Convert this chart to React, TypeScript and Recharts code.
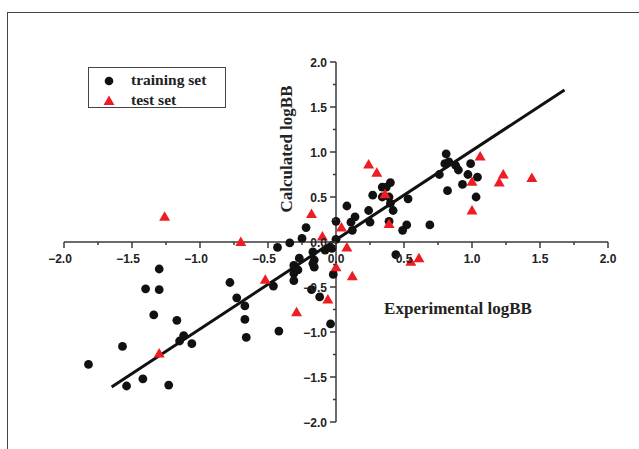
import React from "react"
import { ScatterChart, Scatter, XAxis, YAxis, ReferenceLine, Legend, Customized } from "recharts"

const W = 639
const H = 449
const MARGIN = { top: 62, right: 31, bottom: 7, left: 44 }
const X_AXIS_H = 20
const Y_AXIS_W = 20
const PLOT_LEFT = MARGIN.left + Y_AXIS_W
const PLOT_BOTTOM = MARGIN.bottom + X_AXIS_H
const X0 = PLOT_LEFT + (W - PLOT_LEFT - MARGIN.right) / 2
const Y0 = MARGIN.top + (H - MARGIN.top - PLOT_BOTTOM) / 2

const AXIS_COLOR = "#3a3a3a"
const RED = "#ee1c25"

// training set (experimental, calculated)
const TRAIN_X = [
  -1.82, -1.57, -1.54, -1.42, -1.23, -1.3, -1.4, -1.3, -1.34, -1.17, -1.15, -1.12, -1.06,
  -0.78, -0.73, -0.67, -0.67, -0.66, -0.42, -0.46, -0.43, -0.34, -0.31, -0.31, -0.31, -0.27,
  -0.28, -0.25, -0.22, -0.17, -0.16, -0.16, -0.17, -0.18, -0.12, -0.08, -0.03, -0.02, -0.04,
  0.0, 0.0, 0.08, 0.11, 0.14, 0.12, 0.24, 0.25, 0.27, 0.34, 0.37, 0.4, 0.34, 0.39, 0.4, 0.42,
  0.39, 0.44, 0.49, 0.52, 0.53, 0.69, 0.76, 0.81, 0.8, 0.83, 0.82, 0.88, 0.9, 0.93, 0.97,
  0.99, 1.04, 1.03,
]
const TRAIN_Y = [
  -1.36, -1.16, -1.6, -1.52, -1.59, -0.3, -0.52, -0.53, -0.81, -0.87, -1.1, -1.04, -1.13,
  -0.45, -0.62, -0.71, -0.86, -1.06, -0.99, -0.49, -0.06, -0.01, -0.26, -0.35, -0.43, -0.18,
  -0.31, 0.04, 0.16, -0.11, -0.2, -0.28, -0.24, -0.53, -0.61, -0.09, -0.07, -0.36, -0.91,
  0.23, 0.03, 0.4, 0.22, 0.28, 0.13, 0.35, 0.22, 0.52, 0.61, 0.61, 0.66, 0.5, 0.5, 0.43, 0.35,
  0.23, -0.14, 0.13, 0.19, 0.48, 0.19, 0.75, 0.98, 0.87, 0.89, 0.57, 0.85, 0.8, 0.64, 0.75,
  0.87, 0.72, 0.5,
]

// test set
const TEST_X = [
  -1.26, -0.7, -0.52, -1.3, -0.29, -0.18, -0.1, -0.06, 0.0, 0.04, 0.08, 0.12, 0.24, 0.3,
  0.36, 0.39, 0.55, 0.61, 1.0, 1.0, 1.06, 1.2, 1.23, 1.44,
]
const TEST_Y = [
  0.28, 0.0, -0.42, -1.24, -0.78, 0.31, 0.06, -0.64, -0.28, 0.16, -0.06, -0.38, 0.86, 0.77,
  0.53, 0.2, -0.22, -0.18, 0.67, 0.35, 0.95, 0.66, 0.75, 0.71,
]

// fitted line end points
const FIT_X = [-1.65, 1.68]
const FIT_Y = [-1.61, 1.69]

const X_TICKS = [-2, -1.75, -1.5, -1.25, -1, -0.75, -0.5, -0.25, 0, 0.25, 0.5, 0.75, 1, 1.25, 1.5, 1.75, 2]
const Y_TICKS = [-2, -1.75, -1.5, -1.25, -1, -0.75, -0.5, -0.25, 0, 0.25, 0.5, 0.75, 1, 1.25, 1.5, 1.75, 2]

const trainData = TRAIN_X.map((x, i) => ({ x, y: TRAIN_Y[i] }))
const testData = TEST_X.map((x, i) => ({ x, y: TEST_Y[i] }))

const isMajor = (v: number) => Math.abs(v * 2 - Math.round(v * 2)) < 1e-6
const fmt = (v: number) => v.toFixed(1).replace("-", "\u2212")

const tickFont = {
  fontFamily: "'Liberation Sans', Arial, sans-serif",
  fontWeight: 700,
  fontSize: 12,
  fill: "#222",
}
const titleFont = {
  fontFamily: "'Liberation Serif', 'Times New Roman', serif",
  fontWeight: 700,
  fontSize: 17,
  fill: "#222",
}

// x axis sits on y = 0, so ticks are drawn from the zero line
const renderXTick = (props: any) => {
  const { x, payload } = props
  const v = payload.value
  const major = isMajor(v)
  return (
    <g key={`xt-${v}`}>
      <line x1={x} x2={x} y1={Y0} y2={Y0 + (major ? 6 : 3)} stroke={AXIS_COLOR} strokeWidth={1.5} />
      {major && (
        <text x={x - (v < 0 ? 4 : 0)} y={Y0 + 21} textAnchor="middle" {...tickFont}>
          {fmt(v)}
        </text>
      )}
    </g>
  )
}

const renderYTick = (props: any) => {
  const { y, payload } = props
  const v = payload.value
  const major = isMajor(v)
  return (
    <g key={`yt-${v}`}>
      <line x1={X0 - (major ? 6 : 3)} x2={X0} y1={y} y2={y} stroke={AXIS_COLOR} strokeWidth={1.5} />
      {major && (
        <text x={X0 - 9} y={y + 4.5} textAnchor="end" {...tickFont}>
          {fmt(v)}
        </text>
      )}
    </g>
  )
}

const Dot = ({ cx, cy }: any) => <circle cx={cx} cy={cy} r={4.4} fill="#111" />
const Tri = ({ cx, cy }: any) => (
  <polygon points={`${cx},${cy - 5.5} ${cx - 5.5},${cy + 4} ${cx + 5.5},${cy + 4}`} fill={RED} />
)

const Titles = () => (
  <g>
    <text x={292} y={149} transform="rotate(-90 292 149)" textAnchor="middle" {...titleFont}>
      Calculated logBB
    </text>
    <text x={458} y={314} textAnchor="middle" {...titleFont}>
      Experimental logBB
    </text>
  </g>
)

const LegendBox = () => (
  <div
    style={{
      width: 138,
      height: 41,
      border: "1.3px solid #444",
      boxSizing: "border-box",
      fontFamily: "'Liberation Serif', 'Times New Roman', serif",
      fontWeight: 700,
      fontSize: 15.5,
      color: "#222",
      position: "relative",
    }}
  >
    <svg width={20} height={40} style={{ position: "absolute", left: 10, top: 0 }}>
      <circle cx={10} cy={13} r={4.3} fill="#111" />
      <polygon points="10,27.5 4.5,37 15.5,37" fill={RED} />
    </svg>
    <div style={{ position: "absolute", left: 42, top: 2, lineHeight: "20px" }}>training set</div>
    <div style={{ position: "absolute", left: 42, top: 22, lineHeight: "20px" }}>test set</div>
  </div>
)

export default function App() {
  return (
    <div style={{ position: "absolute", left: 0, top: 0, width: W, height: H, background: "#fff" }}>
      <div
        style={{
          position: "absolute",
          left: 7,
          top: 12,
          width: W - 7,
          height: H - 12,
          borderTop: "1.5px solid #444",
          borderLeft: "1.5px solid #444",
        }}
      />
      <ScatterChart width={W} height={H} margin={MARGIN}>
        <XAxis
          type="number"
          dataKey="x"
          domain={[-2, 2]}
          ticks={X_TICKS}
          interval={0}
          height={X_AXIS_H}
          axisLine={false}
          tickLine={false}
          tick={renderXTick}
        />
        <YAxis
          type="number"
          dataKey="y"
          domain={[-2, 2]}
          ticks={Y_TICKS}
          interval={0}
          width={Y_AXIS_W}
          axisLine={false}
          tickLine={false}
          tick={renderYTick}
        />
        <ReferenceLine y={0} stroke={AXIS_COLOR} strokeWidth={1.5} />
        <ReferenceLine x={0} stroke={AXIS_COLOR} strokeWidth={1.5} />
        <ReferenceLine
          segment={[
            { x: FIT_X[0], y: FIT_Y[0] },
            { x: FIT_X[1], y: FIT_Y[1] },
          ]}
          stroke="#111"
          strokeWidth={3}
        />
        <Scatter name="training set" data={trainData} shape={<Dot />} isAnimationActive={false} />
        <Scatter name="test set" data={testData} shape={<Tri />} isAnimationActive={false} />
        <Customized component={<Titles />} />
        <Legend
          layout="vertical"
          align="center"
          verticalAlign="middle"
          wrapperStyle={{ left: 88, top: 67, width: 138, height: 41 }}
          content={() => <LegendBox />}
        />
      </ScatterChart>
    </div>
  )
}
